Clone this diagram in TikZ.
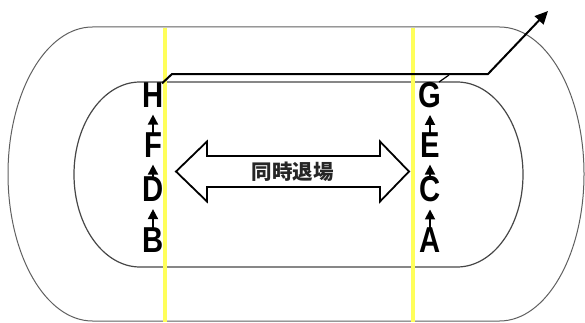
\documentclass[tikz,border=0pt]{standalone}
\usepackage{graphicx}
\usepackage{fontspec}
\setmainfont{Liberation Sans}
\newfontfamily\cjk{Noto Sans CJK JP}
\usetikzlibrary{arrows.meta}
\definecolor{trackgray}{RGB}{95,95,95}
\definecolor{innergray}{RGB}{70,70,70}
\definecolor{laneyellow}{RGB}{255,255,90}
\newcommand{\narrowltr}[1]{\scalebox{0.86}[1.06]{#1}}
\tikzset{
  letter/.style={inner sep=0pt, font=\fontsize{34}{34}\selectfont\bfseries},
  uparrow/.style={line width=1.8pt, -{Triangle[width=10pt,length=10pt]}, shorten <=-3pt, shorten >=7pt},
  track/.style={draw=trackgray, line width=1pt},
  innertrack/.style={draw=innergray, line width=1.2pt},
  lane/.style={draw=laneyellow, line width=3.2pt},
  exitpath/.style={line width=2pt, -{Triangle[width=12pt,length=13pt]}},
  bigarrow/.style={draw=black, line width=1.8pt, fill=white, line join=miter}
}
\begin{document}
\begin{tikzpicture}[x=1pt,y=1pt]
\useasboundingbox (0,0) rectangle (585,322);
% outer track
\draw[track] (92.5,295) -- (499.5,295)
  arc[start angle=90,end angle=-90,x radius=84.5,y radius=147]
  -- (92.5,1)
  arc[start angle=270,end angle=90,x radius=84.5,y radius=147] -- cycle;
% inner track
\draw[innertrack] (140,240) -- (457,240)
  arc[start angle=90,end angle=-90,x radius=66,y radius=92.5]
  -- (140,55)
  arc[start angle=270,end angle=90,x radius=66,y radius=92.5] -- cycle;
% yellow lines
\draw[lane] (165,294) -- (165,0);
\draw[lane] (413,294) -- (413,0);
% double arrow
\draw[bigarrow] (176,150.5) -- (207,180.5) -- (207,166) -- (380,166) -- (380,180.5)
  -- (409,150.5) -- (380,120.5) -- (380,135) -- (207,135) -- (207,120.5) -- cycle;
\node[inner sep=0pt, font=\cjk\bfseries\fontsize{20.5}{20.5}\selectfont, text=black!85] (label) at (292.5,150.5) {同時退場};
% letters
\node[letter] (H) at (153,227) {\narrowltr{H}};
\node[letter] (F) at (153,177) {\narrowltr{F}};
\node[letter] (D) at (153,132.5) {\narrowltr{D}};
\node[letter] (B) at (153,82) {\narrowltr{B}};
\node[letter] (G) at (430,227) {\narrowltr{G}};
\node[letter] (E) at (430,177) {\narrowltr{E}};
\node[letter] (C) at (430,132.5) {\narrowltr{C}};
\node[letter] (A) at (430,82) {\narrowltr{A}};
\draw[uparrow] (F.north) -- (H.south);
\draw[uparrow] (D.north) -- (F.south);
\draw[uparrow] (B.north) -- (D.south);
\draw[uparrow] (E.north) -- (G.south);
\draw[uparrow] (C.north) -- (E.south);
\draw[uparrow] (A.north) -- (C.south);
% exit path
\coordinate (k1) at (172,248);
\coordinate (k2) at (488,248);
\coordinate (out) at (548,311);
\coordinate (gk) at (449,247);
\draw[exitpath] ([xshift=9pt,yshift=-1pt]H.north) -- (k1) -- (k2) -- (out);
\draw[line width=1.2pt] ([xshift=9pt]G.north) -- (gk);
\end{tikzpicture}
\end{document}
